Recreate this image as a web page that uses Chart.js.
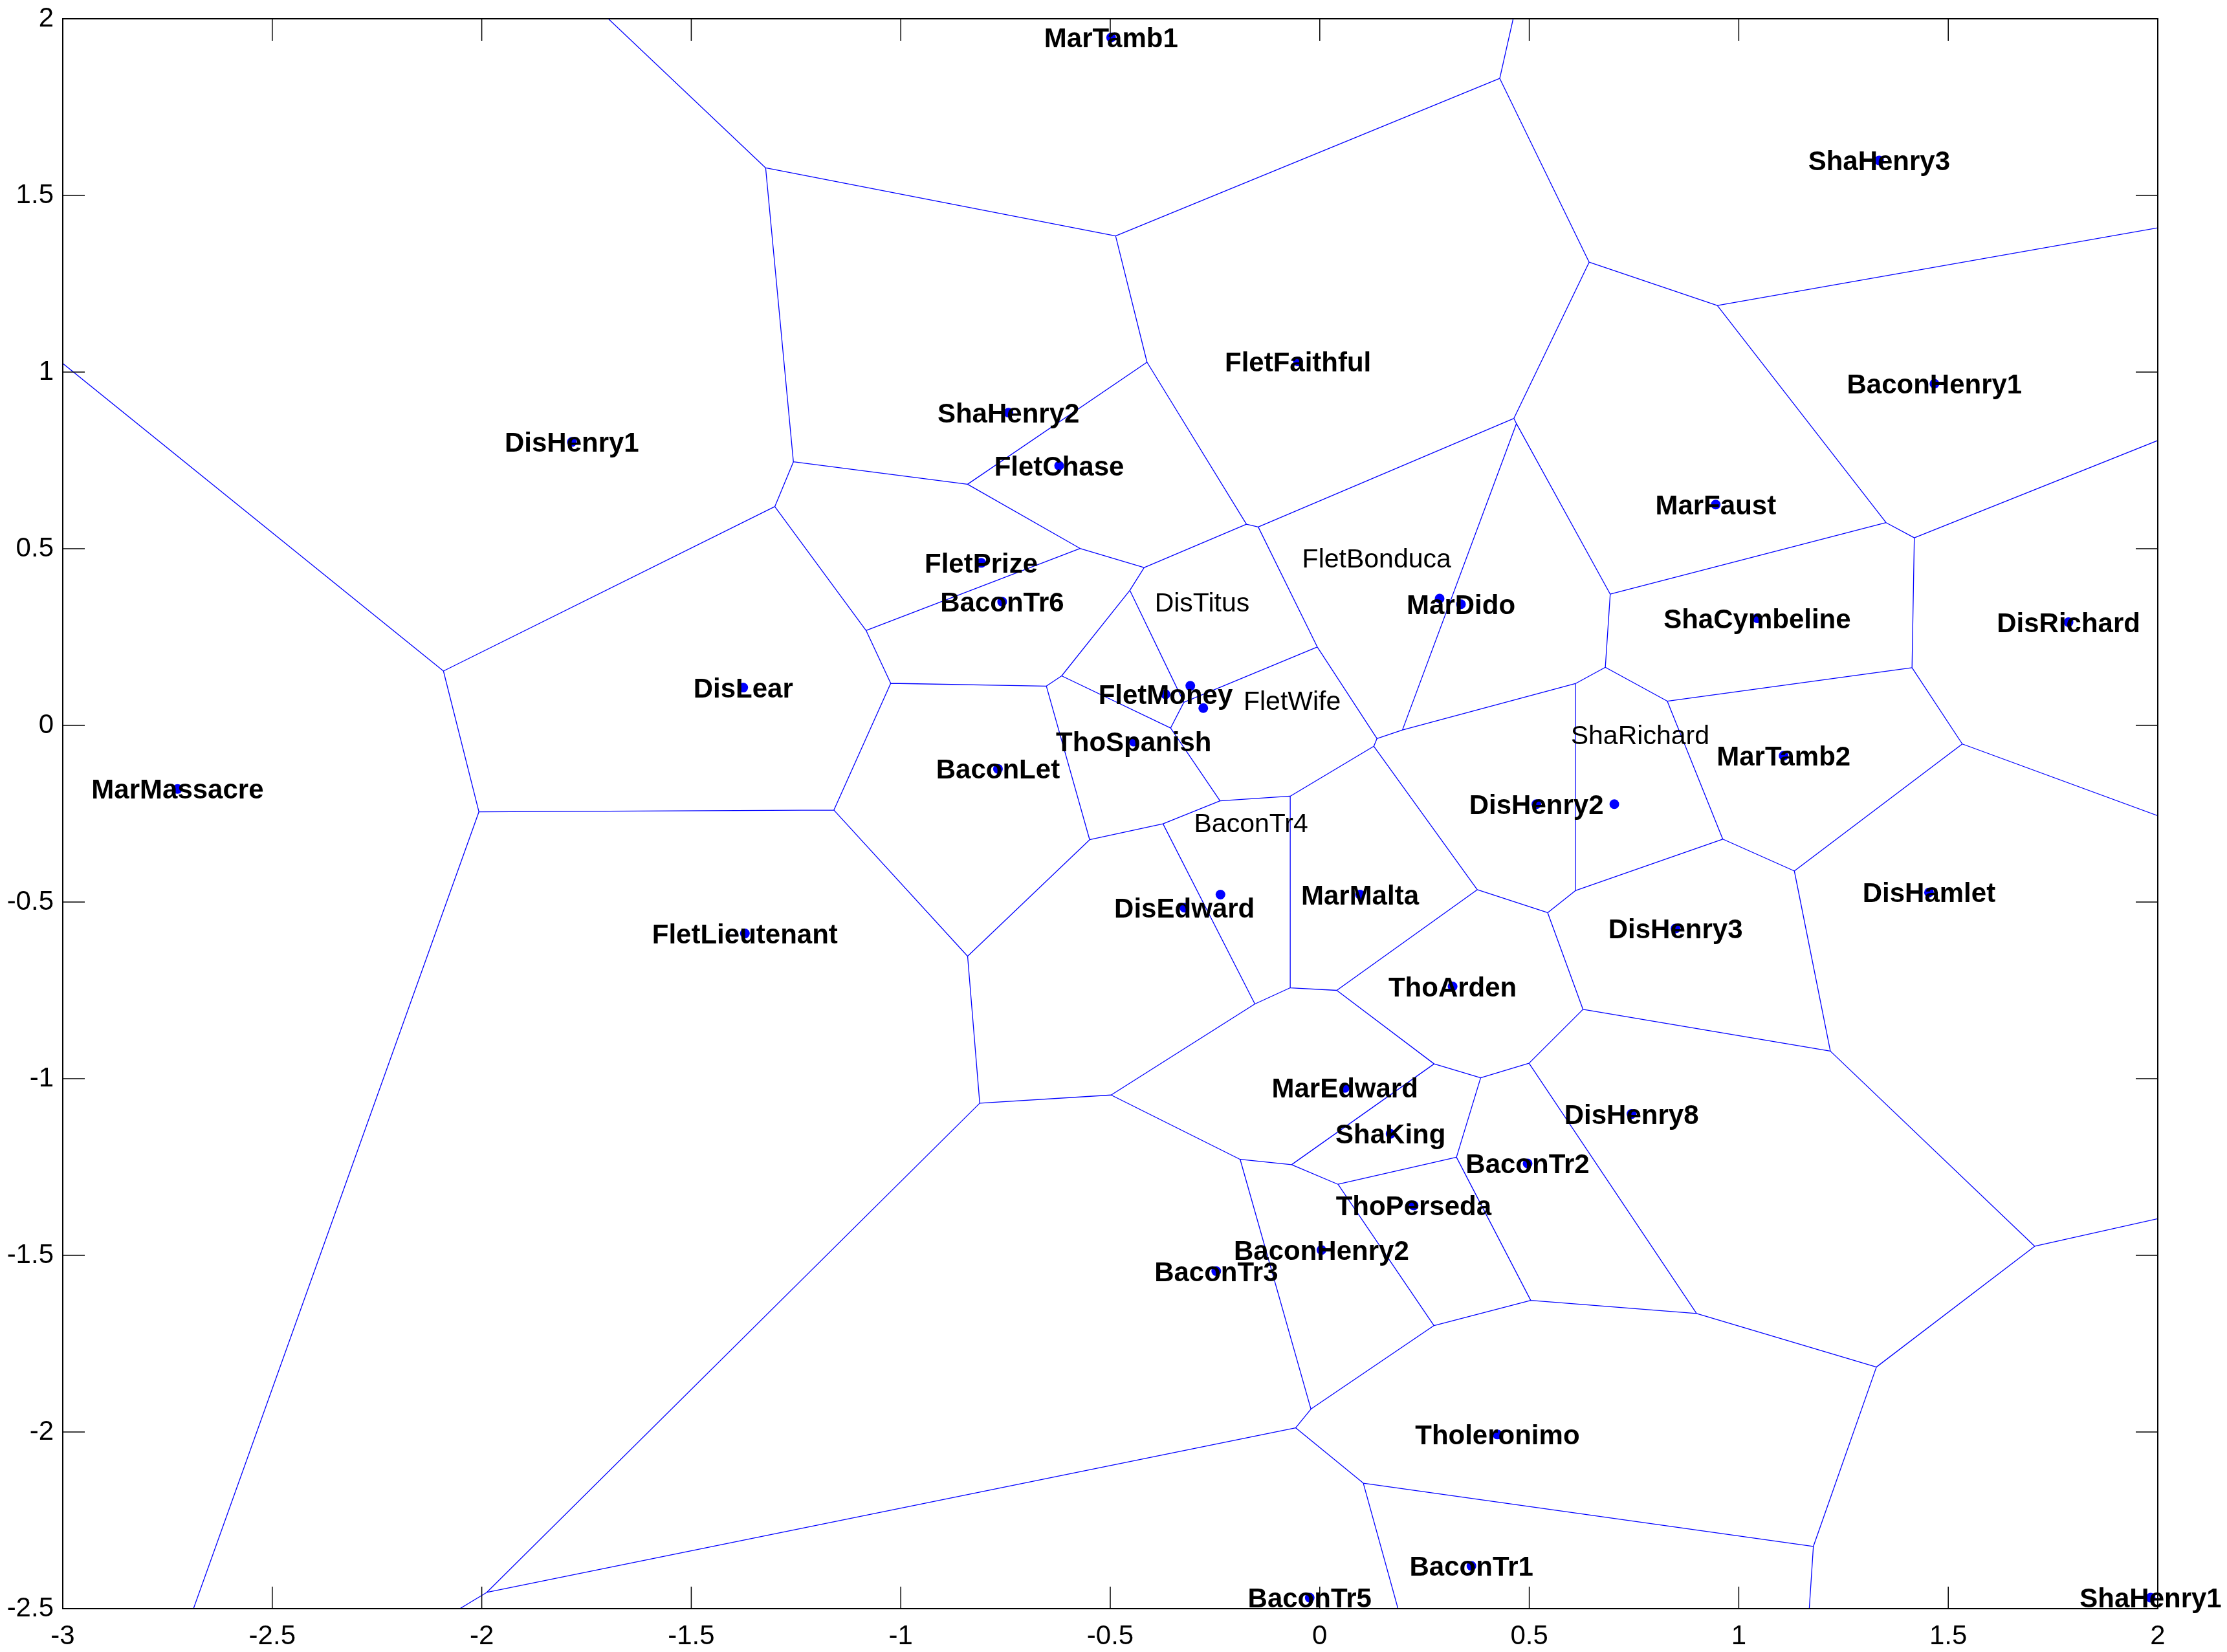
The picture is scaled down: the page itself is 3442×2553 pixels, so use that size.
<!DOCTYPE html>
<html>
<head>
<meta charset="utf-8">
<script src="https://cdn.jsdelivr.net/npm/chart.js@4.4.1/dist/chart.umd.min.js"></script>
<style>
  html, body { margin: 0; padding: 0; background: #fff; }
  #wrap { width: 3442px; height: 2553px; }
</style>
</head>
<body>
<div id="wrap"><canvas id="voronoiChart"></canvas></div>
<script>
const names = [
  'MarTamb1', 'ShaHenry3', 'FletFaithful', 'BaconHenry1', 'ShaHenry2', 'DisHenry1',
  'FletChase', 'MarFaust', 'FletPrize', 'BaconTr6', 'FletBonduca', 'MarDido',
  'ShaCymbeline', 'DisRichard', 'DisLear', 'DisTitus', 'FletMoney', 'FletWife',
  'ThoSpanish', 'MarTamb2', 'BaconLet', 'MarMassacre', 'DisHenry2', 'ShaRichard',
  'BaconTr4', 'DisEdward', 'MarMalta', 'DisHamlet', 'DisHenry3', 'FletLieutenant',
  'ThoArden', 'MarEdward', 'DisHenry8', 'ShaKing', 'BaconTr2', 'ThoPerseda',
  'BaconHenry2', 'BaconTr3', 'Tholeronimo', 'BaconTr1', 'BaconTr5', 'ShaHenry1'
]
const xs = [
  -0.498, 1.335, -0.052, 1.467, -0.743, -1.785,
  -0.622, 0.945, -0.808, -0.758, 0.286, 0.337,
  1.044, 1.787, -1.376, -0.309, -0.368, -0.278,
  -0.444, 1.107, -0.768, -2.726, 0.517, 0.703,
  -0.237, -0.323, 0.096, 1.454, 0.849, -1.372,
  0.317, 0.060, 0.744, 0.169, 0.496, 0.224,
  0.004, -0.247, 0.424, 0.362, -0.024, 1.983
]
const ys = [
  1.947, 1.599, 1.030, 0.967, 0.885, 0.802,
  0.735, 0.625, 0.460, 0.350, 0.359, 0.343,
  0.303, 0.292, 0.107, 0.112, 0.088, 0.049,
  -0.046, -0.086, -0.123, -0.180, -0.223, -0.223,
  -0.479, -0.516, -0.479, -0.473, -0.575, -0.589,
  -0.739, -1.026, -1.100, -1.156, -1.240, -1.359,
  -1.485, -1.545, -2.007, -2.379, -2.469, -2.469
]

// labels that were set beside their dot in plain type
const looseNames = ['DisTitus', 'FletWife', 'FletBonduca', 'ShaRichard', 'BaconTr4']
const looseX = [-0.394, -0.182, -0.042, 0.599, -0.300]
const looseY = [0.350, 0.070, 0.473, -0.026, -0.276]

const xTicks = [-3, -2.5, -2, -1.5, -1, -0.5, 0, 0.5, 1, 1.5, 2]
const yTicks = [-2.5, -2, -1.5, -1, -0.5, 0, 0.5, 1, 1.5, 2]

// keep the part of poly where a*x + b*y <= c
function clipPolygon(poly, a, b, c) {
  const out = []
  for (let i = 0; i < poly.length; i++) {
    const p = poly[i]
    const q = poly[(i + 1) % poly.length]
    const fp = a * p[0] + b * p[1] - c
    const fq = a * q[0] + b * q[1] - c
    if (fp <= 0) out.push(p)
    if ((fp < 0 && fq > 0) || (fp > 0 && fq < 0)) {
      const t = fp / (fp - fq)
      out.push([p[0] + t * (q[0] - p[0]), p[1] + t * (q[1] - p[1])])
    }
  }
  return out
}

function voronoiEdges(px, py) {
  const B = 20
  const segments = []
  for (let i = 0; i < px.length; i++) {
    let cell = [[-B, -B], [B, -B], [B, B], [-B, B]]
    for (let j = 0; j < px.length; j++) {
      if (j === i) continue
      const a = 2 * (px[j] - px[i])
      const b = 2 * (py[j] - py[i])
      const c = px[j] * px[j] + py[j] * py[j] - px[i] * px[i] - py[i] * py[i]
      cell = clipPolygon(cell, a, b, c)
    }
    for (let k = 0; k < cell.length; k++) {
      const p = cell[k]
      const q = cell[(k + 1) % cell.length]
      const mx = (p[0] + q[0]) / 2
      const my = (p[1] + q[1]) / 2
      if (Math.abs(Math.abs(mx) - B) < 1e-9 || Math.abs(Math.abs(my) - B) < 1e-9) continue
      let best = -1
      let bestD = Infinity
      for (let j = 0; j < px.length; j++) {
        if (j === i) continue
        const d = (px[j] - mx) ** 2 + (py[j] - my) ** 2
        if (d < bestD) { bestD = d; best = j }
      }
      if (best > i) segments.push([p, q])
    }
  }
  return segments
}

const edgeData = []
voronoiEdges(xs, ys).forEach(([p, q]) => {
  edgeData.push({ x: p[0], y: p[1] }, { x: q[0], y: q[1] }, { x: (p[0] + q[0]) / 2, y: null })
})

const framePlugin = {
  id: 'matlabFrame',
  afterDatasetsDraw(chart) {
    const { ctx, chartArea: a, scales: { x, y } } = chart
    const len = 34
    ctx.save()
    ctx.strokeStyle = '#000'
    ctx.lineWidth = 2
    ctx.strokeRect(a.left, a.top, a.right - a.left, a.bottom - a.top)
    ctx.lineWidth = 1.5
    ctx.beginPath()
    xTicks.forEach(v => {
      const p = x.getPixelForValue(v)
      ctx.moveTo(p, a.bottom); ctx.lineTo(p, a.bottom - len)
      ctx.moveTo(p, a.top); ctx.lineTo(p, a.top + len)
    })
    yTicks.forEach(v => {
      const p = y.getPixelForValue(v)
      ctx.moveTo(a.left, p); ctx.lineTo(a.left + len, p)
      ctx.moveTo(a.right, p); ctx.lineTo(a.right - len, p)
    })
    ctx.stroke()
    ctx.restore()
  }
}

const labelPlugin = {
  id: 'pointLabels',
  afterDatasetsDraw(chart) {
    const { ctx, scales: { x, y } } = chart
    ctx.save()
    ctx.fillStyle = '#000'
    ctx.textBaseline = 'alphabetic'
    names.forEach((name, i) => {
      const k = looseNames.indexOf(name)
      if (k >= 0) {
        ctx.font = '41px "Liberation Sans", Arial, sans-serif'
        ctx.textAlign = 'left'
        ctx.fillText(name, x.getPixelForValue(looseX[k]), y.getPixelForValue(looseY[k]) + 41 * 0.358)
      } else {
        ctx.font = 'bold 42px "Liberation Sans", Arial, sans-serif'
        ctx.textAlign = 'center'
        ctx.fillText(name, x.getPixelForValue(xs[i]), y.getPixelForValue(ys[i]) + 42 * 0.358)
      }
    })
    ctx.restore()
  }
}

const ctx = document.getElementById('voronoiChart').getContext('2d')

new Chart(ctx, {
  type: 'scatter',
  data: {
    datasets: [
      {
        type: 'line',
        label: 'edges',
        data: edgeData,
        borderColor: '#0000ff',
        borderWidth: 1.3,
        pointRadius: 0,
        spanGaps: false,
        tension: 0,
        fill: false,
        clip: 0
      },
      {
        label: 'plays',
        data: xs.map((v, i) => ({ x: v, y: ys[i] })),
        backgroundColor: '#0000ff',
        borderWidth: 0,
        pointRadius: 7.5,
        clip: false
      }
    ]
  },
  options: {
    responsive: true,
    maintainAspectRatio: false,
    animation: false,
    events: [],
    layout: { padding: { left: 0, top: 29, right: 107, bottom: 0 } },
    plugins: {
      legend: { display: false },
      tooltip: { enabled: false }
    },
    scales: {
      x: {
        type: 'linear',
        min: -3,
        max: 2,
        afterBuildTicks: s => { s.ticks = xTicks.map(v => ({ value: v })) },
        afterFit: s => {
          s.height = 67
          s.paddingLeft = 0
          s.paddingRight = 0
        },
        grid: { display: false, drawTicks: false },
        border: { display: false },
        ticks: {
          padding: 22,
          maxRotation: 0,
          autoSkip: false,
          color: '#000',
          font: { family: '"Liberation Sans", Arial, sans-serif', size: 42, lineHeight: 1 },
          callback: v => String(v)
        }
      },
      y: {
        type: 'linear',
        min: -2.5,
        max: 2,
        afterBuildTicks: s => { s.ticks = yTicks.map(v => ({ value: v })) },
        afterFit: s => {
          s.width = 97
          s.paddingTop = 0
          s.paddingBottom = 0
        },
        grid: { display: false, drawTicks: false },
        border: { display: false },
        ticks: {
          padding: 14,
          autoSkip: false,
          color: '#000',
          font: { family: '"Liberation Sans", Arial, sans-serif', size: 42, lineHeight: 1 },
          callback: v => String(v)
        }
      }
    }
  },
  plugins: [framePlugin, labelPlugin]
})
</script>
</body>
</html>
